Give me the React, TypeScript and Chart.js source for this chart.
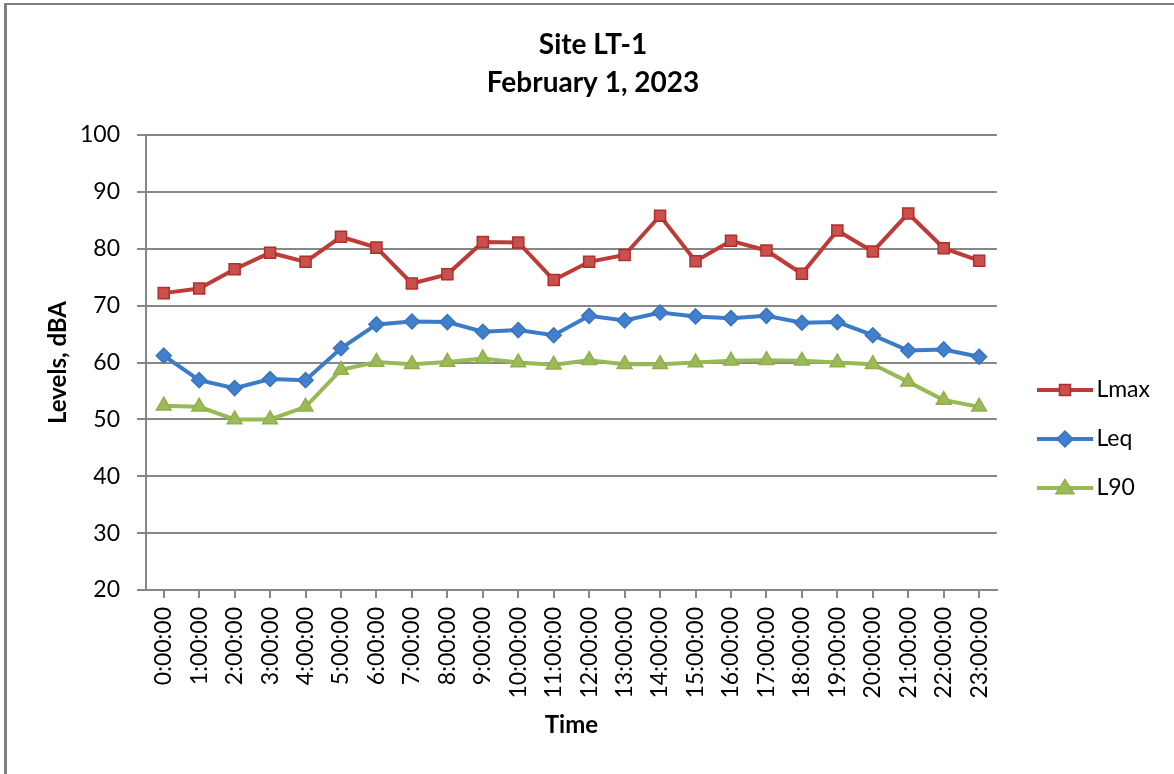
import React, { useEffect, useRef } from 'react';
import { Chart, registerables } from 'chart.js';

Chart.register(...registerables);

const categories = [
  '0:00:00', '1:00:00', '2:00:00', '3:00:00', '4:00:00', '5:00:00',
  '6:00:00', '7:00:00', '8:00:00', '9:00:00', '10:00:00', '11:00:00',
  '12:00:00', '13:00:00', '14:00:00', '15:00:00', '16:00:00', '17:00:00',
  '18:00:00', '19:00:00', '20:00:00', '21:00:00', '22:00:00', '23:00:00',
];

const lmax = [72.2, 73.0, 76.4, 79.3, 77.7, 82.1, 80.2, 73.9, 75.5, 81.2, 81.1, 74.5,
  77.7, 78.9, 85.8, 77.8, 81.4, 79.7, 75.6, 83.2, 79.5, 86.2, 80.1, 77.9];
const leq = [61.2, 56.9, 55.5, 57.1, 56.9, 62.5, 66.7, 67.2, 67.1, 65.4, 65.7, 64.8,
  68.2, 67.4, 68.8, 68.1, 67.8, 68.2, 67.0, 67.1, 64.8, 62.1, 62.3, 61.0];
const l90 = [52.4, 52.2, 50.0, 50.0, 52.2, 58.7, 60.1, 59.7, 60.1, 60.7, 60.0, 59.6,
  60.4, 59.7, 59.7, 60.0, 60.3, 60.4, 60.3, 60.0, 59.7, 56.6, 53.4, 52.2];

const seriesNames = ['Lmax', 'Leq', 'L90'];
const titleLines = ['Site LT-1', 'February 1, 2023'];
const yAxisTitle = 'Levels, dBA';
const xAxisTitle = 'Time';
const yMin = 20;
const yMax = 100;
const yStep = 10;

const FONT = 'Lato';
const GRID = '#878787';

type Shape = 'rect' | 'rectRot' | 'triangle';

function makeIcon(lineColor: string, fill: string, border: string, shape: Shape): HTMLCanvasElement {
  const c = document.createElement('canvas');
  c.width = 78;
  c.height = 24;
  const ctx = c.getContext('2d') as CanvasRenderingContext2D;
  const cy = 12;
  ctx.strokeStyle = lineColor;
  ctx.lineWidth = 4;
  ctx.lineCap = 'butt';
  ctx.beginPath();
  ctx.moveTo(22, cy);
  ctx.lineTo(78, cy);
  ctx.stroke();
  const cx = 50;
  ctx.fillStyle = fill;
  ctx.strokeStyle = border;
  ctx.lineWidth = 1.5;
  ctx.beginPath();
  if (shape === 'rect') {
    ctx.rect(cx - 5.5, cy - 5.5, 11, 11);
  } else if (shape === 'rectRot') {
    const r = 8;
    ctx.moveTo(cx, cy - r);
    ctx.lineTo(cx + r, cy);
    ctx.lineTo(cx, cy + r);
    ctx.lineTo(cx - r, cy);
    ctx.closePath();
  } else {
    const r = 9.5;
    ctx.moveTo(cx, cy - r * 0.9);
    ctx.lineTo(cx + r * 0.95, cy + r * 0.6);
    ctx.lineTo(cx - r * 0.95, cy + r * 0.6);
    ctx.closePath();
  }
  ctx.fill();
  ctx.stroke();
  return c;
}

export default function App() {
  const ref = useRef<HTMLCanvasElement | null>(null);

  useEffect(() => {
    if (!ref.current) return;
    const styles = [
      { line: '#BE3B38', fill: '#C9504D', border: '#B02E2B', shape: 'rect' as Shape, radius: 7.8 },
      { line: '#3B7BC8', fill: '#4080CC', border: '#3A74BA', shape: 'rectRot' as Shape, radius: 7.5 },
      { line: '#98B954', fill: '#9BBB59', border: '#8FAF4C', shape: 'triangle' as Shape, radius: 8.5 },
    ];
    const icons = styles.map((s) => makeIcon(s.line, s.fill, s.border, s.shape));
    const values = [lmax, leq, l90];

    const chart = new Chart(ref.current, {
      type: 'line',
      data: {
        labels: categories,
        datasets: values.map((v, i) => ({
          label: seriesNames[i],
          data: v,
          borderColor: styles[i].line,
          backgroundColor: styles[i].fill,
          borderWidth: 4,
          pointStyle: styles[i].shape,
          pointRadius: styles[i].radius,
          pointBackgroundColor: styles[i].fill,
          pointBorderColor: styles[i].border,
          pointBorderWidth: 1.5,
          tension: 0,
          fill: false,
        })),
      },
      options: {
        responsive: false,
        animation: false,
        events: [],
        layout: { padding: { left: 26, right: 14, top: 0, bottom: 0 } },
        plugins: {
          title: {
            display: true,
            text: titleLines,
            color: '#000',
            font: { family: FONT, size: 28, weight: 'bold', lineHeight: '38px' },
            padding: { top: 26, bottom: 33 },
          },
          legend: {
            position: 'right',
            title: { display: true, text: ' ', font: { size: 10, lineHeight: 1.2 }, padding: 46 },
            labels: {
              usePointStyle: true,
              pointStyleWidth: 62,
              padding: 26,
              color: '#000',
              font: { family: FONT, size: 23 },
              generateLabels: (c: any) => {
                const items = Chart.defaults.plugins.legend.labels.generateLabels(c);
                return items.map((it: any, i: number) => ({ ...it, pointStyle: icons[i] }));
              },
            },
          },
          tooltip: { enabled: false },
        },
        scales: {
          x: {
            type: 'category',
            offset: true,
            grid: { drawOnChartArea: false, drawTicks: true, tickLength: 8, color: GRID, lineWidth: 2 },
            border: { display: true, color: GRID, width: 2 },
            ticks: {
              autoSkip: false,
              minRotation: 90,
              maxRotation: 90,
              padding: 9,
              color: '#000',
              font: { family: FONT, size: 23 },
            },
            title: {
              display: true,
              text: xAxisTitle,
              color: '#000',
              font: { family: FONT, size: 24, weight: 'bold', lineHeight: 1.2 },
              padding: { top: 0, bottom: 34 },
            },
            afterFit: (s: any) => { s.height = 184; },
          },
          y: {
            min: yMin,
            max: yMax,
            ticks: {
              stepSize: yStep,
              padding: 17,
              color: '#000',
              font: { family: FONT, size: 23 },
            },
            grid: { color: GRID, lineWidth: 2, tickLength: 9, drawTicks: true },
            border: { display: true, color: GRID, width: 2 },
            title: {
              display: true,
              text: yAxisTitle,
              color: '#000',
              font: { family: FONT, size: 24, weight: 'bold', lineHeight: 1.2 },
              padding: { top: 18, bottom: 0 },
            },
            afterFit: (s: any) => { s.width = 120; },
          },
        },
      } as any,
    });
    return () => chart.destroy();
  }, []);

  return (
    <div style={{ position: 'fixed', left: 0, top: 0, width: 1174, height: 774, background: '#fff', overflow: 'hidden' }}>
      <div
        style={{
          position: 'absolute', left: 4, top: 3, width: 1300, height: 900,
          borderLeft: '3px solid #7f7f7f', borderTop: '2px solid #7f7f7f', boxSizing: 'border-box',
        }}
      />
      <canvas
        ref={ref}
        width={1174}
        height={774}
        style={{ position: 'absolute', left: 0, top: 0, width: 1174, height: 774 }}
      />
    </div>
  );
}
